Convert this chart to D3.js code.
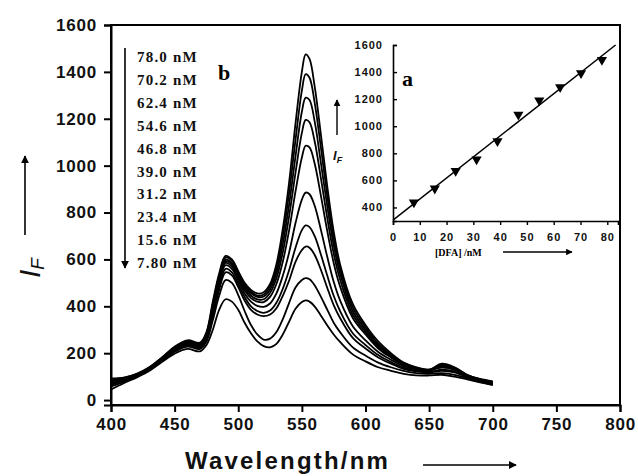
<!DOCTYPE html>
<html><head><meta charset="utf-8">
<script src="https://cdn.jsdelivr.net/npm/d3@7"></script>
<style>body{margin:0;background:#fff}svg{display:block}</style></head>
<body>
<svg id="c" width="638" height="476"></svg>
<script>
const wavelengths = [400,410,420,430,440,450,460,470,475,480,485,490,495,500,505,510,515,520,525,530,535,540,545,550,553,556,560,565,570,575,580,590,600,610,620,630,640,650,660,670,680,690,700];
const concLabels = ["78.0 nM","70.2 nM","62.4 nM","54.6 nM","46.8 nM","39.0 nM","31.2 nM","23.4 nM","15.6 nM","7.80 nM"];
const s780 = [88,95,112,140,182,228,255,245,290,420,540,615,600,550,500,470,455,460,495,580,730,930,1180,1400,1475,1455,1340,1130,910,720,580,410,320,250,200,160,140,130,140,130,105,90,80];
const s702 = [80,90,108,138,180,225,250,240,285,410,530,608,595,545,495,462,446,450,485,560,700,885,1110,1320,1390,1375,1270,1075,870,690,560,395,310,240,195,158,138,128,150,135,105,88,78];
const s624 = [75,88,106,135,178,222,248,238,280,400,520,598,585,538,488,455,440,442,472,540,665,835,1040,1230,1290,1280,1190,1010,825,660,540,380,300,232,190,155,135,130,155,140,108,88,76];
const s546 = [92,96,110,137,176,220,246,236,276,392,512,592,578,530,478,445,430,430,458,520,630,785,970,1140,1195,1185,1105,945,775,625,515,365,290,226,186,152,133,128,150,138,106,87,75];
const s468 = [70,85,104,132,174,218,244,234,272,385,505,585,570,520,468,435,420,418,440,495,590,725,890,1035,1085,1078,1010,870,720,585,485,350,280,220,182,150,132,126,145,135,104,86,74];
const s390 = [85,92,108,134,172,215,240,230,268,378,495,575,560,510,455,420,402,398,412,455,530,630,755,855,885,878,830,725,610,505,425,315,255,205,172,145,130,125,140,130,100,84,72];
const s312 = [65,82,102,130,170,212,236,226,262,368,482,560,545,495,440,400,380,372,382,415,475,555,650,725,745,738,700,620,530,445,380,285,235,192,162,138,125,120,130,122,98,82,70];
const s234 = [80,90,106,132,170,210,234,224,258,360,470,545,532,482,425,385,365,358,365,392,445,510,590,640,655,650,620,555,478,405,350,265,220,182,155,133,122,118,125,118,96,80,68];
const s156 = [58,78,100,128,168,206,228,218,250,340,445,512,500,448,380,320,280,258,262,290,345,415,480,512,520,515,490,440,385,330,290,225,190,160,140,125,115,112,115,108,92,78,66];
const s078 = [45,72,96,124,162,198,218,208,235,300,385,430,420,385,330,285,250,230,225,240,280,335,390,418,425,420,400,360,318,280,248,195,165,140,125,112,105,105,108,100,88,76,64];
const spectra = [s780,s702,s624,s546,s468,s390,s312,s234,s156,s078];

const xTicks = [400,450,500,550,600,650,700,750,800];
const yTicks = [0,200,400,600,800,1000,1200,1400,1600];

const insetConc = [7.8,15.6,23.4,31.2,39.0,46.8,54.6,62.4,70.2,78.0];
const insetIF = [437,540,670,755,890,1086,1191,1289,1392,1490];
const insetXTicks = [0,10,20,30,40,50,60,70,80];
const insetYTicks = [400,600,800,1000,1200,1400,1600];

const svg = d3.select("#c");
const x = d3.scaleLinear().domain([400,800]).range([111,620]);
const y = d3.scaleLinear().domain([-21,1600]).range([405,25]);

// frame
svg.append("rect").attr("x",x(400)).attr("y",y(1600)).attr("width",x(800)-x(400)).attr("height",y(-21)-y(1600))
  .attr("fill","none").attr("stroke","#000").attr("stroke-width",2);

const tickFont = "'Liberation Sans', Arial, sans-serif";
const gx = svg.append("g").attr("transform",`translate(0,${y(-21)})`)
  .call(d3.axisBottom(x).tickValues(xTicks).tickSize(7).tickPadding(6).tickFormat(d3.format("d")));
const gy = svg.append("g").attr("transform",`translate(${x(400)},0)`)
  .call(d3.axisLeft(y).tickValues(yTicks).tickSize(7).tickPadding(7).tickFormat(d3.format("d")));
[gx,gy].forEach(g=>{
  g.select(".domain").attr("stroke","#000").attr("stroke-width",2);
  g.selectAll(".tick line").attr("stroke","#000").attr("stroke-width",2);
  g.selectAll(".tick text").attr("fill","#111").style("font-family",tickFont).style("font-weight","bold")
   .style("font-size","17px").style("letter-spacing","0.8px");
});

// spectra
const line = d3.line().x((d,i)=>x(wavelengths[i])).y(d=>y(d)).curve(d3.curveCatmullRom.alpha(0.5));
svg.append("g").selectAll("path").data(spectra).join("path")
  .attr("d",line).attr("fill","none").attr("stroke","#000").attr("stroke-width",1.8);

// legend arrow + labels
const defs = svg.append("defs");
defs.append("marker").attr("id","ah").attr("viewBox","0 0 10 10").attr("refX",9).attr("refY",5)
  .attr("markerWidth",5).attr("markerHeight",5).attr("orient","auto")
  .append("path").attr("d","M0,0L10,5L0,10z").attr("fill","#000");
svg.append("line").attr("x1",125).attr("y1",48).attr("x2",125).attr("y2",268)
  .attr("stroke","#000").attr("stroke-width",1.6).attr("marker-end","url(#ah)");
svg.append("g").selectAll("text").data(concLabels).join("text")
  .attr("x",137).attr("y",(d,i)=>62+i*22.9).text(d=>d)
  .style("font-family","'Liberation Serif', 'Times New Roman', serif").style("font-weight","bold")
  .style("font-size","15px").style("letter-spacing","1.2px").attr("fill","#111");
svg.append("text").attr("x",218).attr("y",80).text("b")
  .style("font-family","'Liberation Serif', serif").style("font-weight","bold").style("font-size","22px");

// axis titles
svg.append("text").attr("x",185).attr("y",469).text("Wavelength/nm")
  .style("font-family",tickFont).style("font-weight","bold").style("font-size","24px").style("letter-spacing","2.2px").attr("fill","#111");
svg.append("line").attr("x1",423).attr("y1",465).attr("x2",516).attr("y2",465)
  .attr("stroke","#000").attr("stroke-width",1.6).attr("marker-end","url(#ah)");
const yl = svg.append("text").attr("transform","translate(40,278) rotate(-90)")
  .style("font-family",tickFont).style("font-style","italic").attr("fill","#111");
yl.append("tspan").text("I").style("font-size","30px");
yl.append("tspan").text("F").style("font-size","19px").attr("dy",4);
svg.append("line").attr("x1",25).attr("y1",235).attr("x2",25).attr("y2",156)
  .attr("stroke","#000").attr("stroke-width",1.6).attr("marker-end","url(#ah)");

// inset
const ix = d3.scaleLinear().domain([0,84]).range([393,618]);
const iy = d3.scaleLinear().domain([300,1600]).range([221,45]);
const gix = svg.append("g").attr("transform",`translate(0,${iy(300)})`)
  .call(d3.axisBottom(ix).tickValues(insetXTicks).tickSize(4).tickPadding(8).tickFormat(d3.format("d")));
const giy = svg.append("g").attr("transform",`translate(${ix(0)},0)`)
  .call(d3.axisLeft(iy).tickValues(insetYTicks).tickSize(-4).tickPadding(10).tickFormat(d3.format("d")));
[gix,giy].forEach(g=>{
  g.select(".domain").attr("stroke","#000").attr("stroke-width",1.6);
  g.selectAll(".tick line").attr("stroke","#000").attr("stroke-width",1.4);
  g.selectAll(".tick text").attr("fill","#111").style("font-family",tickFont).style("font-weight","bold")
   .style("font-size","11px").style("letter-spacing","1px");
});
// regression
const mx = d3.mean(insetConc), my = d3.mean(insetIF);
const slope = d3.sum(insetConc,(c,i)=>(c-mx)*(insetIF[i]-my))/d3.sum(insetConc,c=>(c-mx)*(c-mx));
const icpt = my - slope*mx;
const fitX = [0, (1600-icpt)/slope];
svg.append("path").attr("d",d3.line().x(d=>ix(d)).y(d=>iy(icpt+slope*d))(fitX))
  .attr("stroke","#000").attr("stroke-width",1.5).attr("fill","none");
svg.append("g").selectAll("path").data(insetConc).join("path")
  .attr("d",d3.symbol(d3.symbolTriangle,45))
  .attr("transform",(d,i)=>`translate(${ix(d)},${iy(insetIF[i])}) rotate(180)`).attr("fill","#000");
svg.append("text").attr("x",402).attr("y",86).text("a")
  .style("font-family","'Liberation Serif', serif").style("font-weight","bold").style("font-size","22px");
svg.append("text").attr("x",435).attr("y",256).text("[DFA] /nM")
  .style("font-family","'Liberation Serif', serif").style("font-weight","bold").style("font-size","10px");
svg.append("line").attr("x1",503).attr("y1",252).attr("x2",572).attr("y2",252)
  .attr("stroke","#000").attr("stroke-width",1.3).attr("marker-end","url(#ah)");
const il = svg.append("text").attr("x",333).attr("y",160)
  .style("font-family",tickFont).style("font-style","italic").style("font-weight","bold").attr("fill","#111");
il.append("tspan").text("I").style("font-size","13px");
il.append("tspan").text("F").style("font-size","9px").attr("dy",3);
svg.append("line").attr("x1",337).attr("y1",135).attr("x2",337).attr("y2",100)
  .attr("stroke","#000").attr("stroke-width",1.4).attr("marker-end","url(#ah)");
</script>
</body></html>
